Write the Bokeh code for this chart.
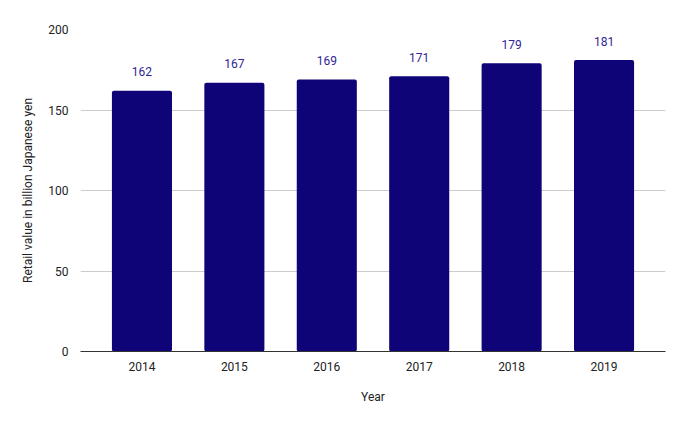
from bokeh.plotting import figure
from bokeh.models import ColumnDataSource, FactorRange, Range1d, FixedTicker, LabelSet
from bokeh.core.properties import value
from bokeh.embed import file_html
from bokeh.resources import INLINE

years = ["2014", "2015", "2016", "2017", "2018", "2019"]
values = [162, 167, 169, 171, 179, 181]
y_ticks = [0, 50, 100, 150, 200]

src = ColumnDataSource(dict(x=years, y=values, lbl=[str(v) for v in values]))

p = figure(x_range=FactorRange(*years, range_padding=0.055, range_padding_units="percent"),
           y_range=Range1d(0, 200), width=685, height=423,
           output_backend="svg", toolbar_location=None,
           min_border_left=80, min_border_right=20, min_border_top=29, min_border_bottom=72)
p.outline_line_color = None
p.background_fill_color = "white"

p.vbar(x="x", top="y", width=0.65, source=src, color="#0e0478", line_color=None, border_radius=2)

labels = LabelSet(x="x", y="y", text="lbl", source=src, text_align="center", text_baseline="middle",
                  y_offset=19, text_font=value("Roboto"), text_font_size="12px", text_color="#2f2596")
p.add_layout(labels)

p.xgrid.grid_line_color = None
p.ygrid.grid_line_color = "#cccccc"
p.yaxis.ticker = FixedTicker(ticks=y_ticks)
p.yaxis.axis_line_color = None
p.yaxis.major_tick_line_color = None
p.yaxis.minor_tick_line_color = None
p.xaxis.major_tick_line_color = None
p.xaxis.axis_line_color = "#333333"
for ax in (p.xaxis, p.yaxis):
    ax.major_label_text_font = "Roboto"
    ax.major_label_text_font_size = "12px"
    ax.major_label_text_color = "#222222"
    ax.axis_label_text_font = "Roboto"
    ax.axis_label_text_font_size = "12px"
    ax.axis_label_text_font_style = "normal"
    ax.axis_label_text_color = "#222222"
p.xaxis.axis_label = "Year"
p.yaxis.axis_label = "Retail value in billion Japanese yen"
p.xaxis.major_label_standoff = 4
p.xaxis.axis_label_standoff = 16
p.yaxis.major_label_standoff = 6
p.yaxis.axis_label_standoff = 10

open("out.html", "w").write(file_html(p, INLINE))
